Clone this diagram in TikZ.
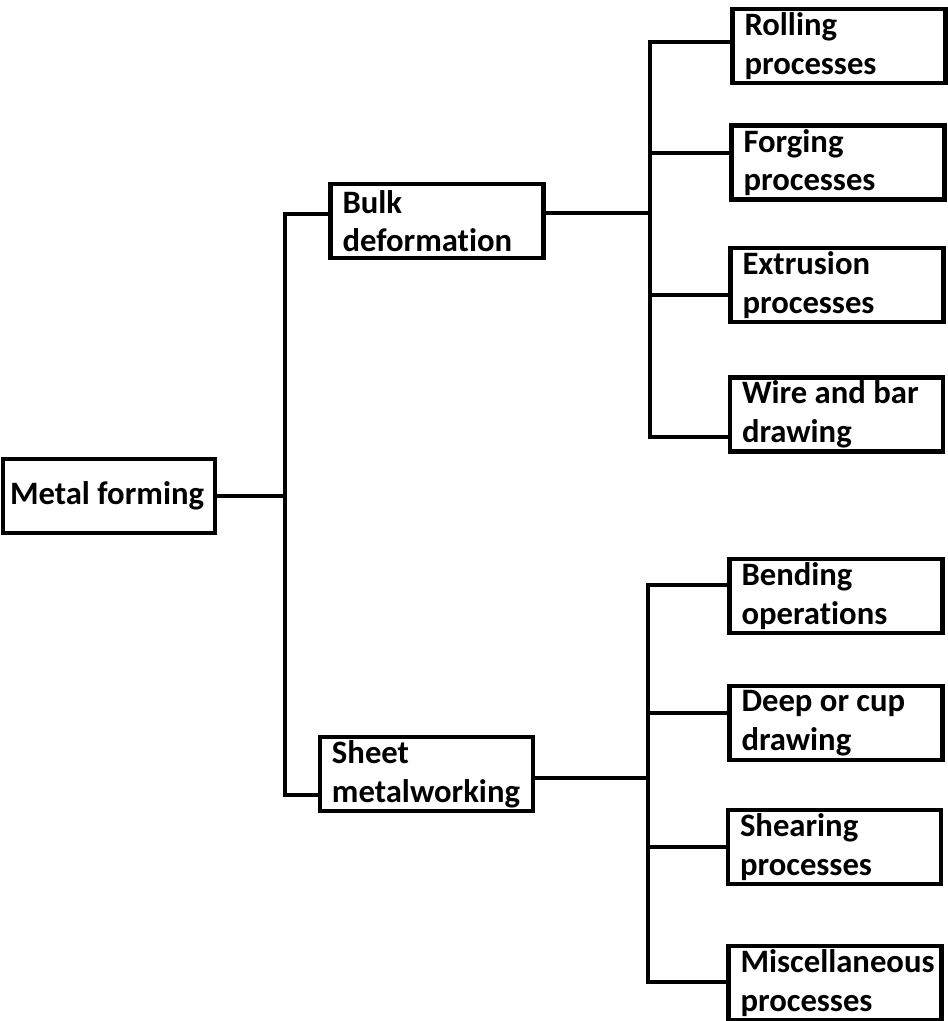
\documentclass[tikz,border=0pt]{standalone}
\usepackage{fontspec}
\setmainfont{Carlito}[Ligatures=NoCommon]
\usetikzlibrary{positioning}

\begin{document}
\begin{tikzpicture}[
    box/.style={draw, rectangle, line width=1.2pt, minimum height=0.74cm, inner xsep=0.12cm, inner ysep=0pt, text width=1.89cm, align=flush left, font=\fontsize{9.3}{11}\selectfont\bfseries},
    link/.style={line width=1.2pt}
]
    \useasboundingbox (0,0) rectangle (9.48,-10.21);

    % Root
    \node[box, text width=1.98cm, inner xsep=0.07cm] (mf) at (1.09,-4.96) {Metal forming};

    % Main groups
    \node[box] (bulk) at (4.37,-2.21) {Bulk\\deformation};
    \node[box] (sheet) at (4.265,-7.74) {Sheet\\metalworking};

    % Bulk deformation processes
    \node[box] (rolling) at (8.39,-0.46) {Rolling\\processes};
    \node[box] (forging) at (8.38,-1.625) {Forging\\processes};
    \node[box] (extrusion) at (8.37,-2.85) {Extrusion\\processes};
    \node[box] (wire) at (8.365,-4.145) {Wire and bar\\drawing};

    % Sheet metalworking processes
    \node[box] (bending) at (8.36,-5.96) {Bending\\operations};
    \node[box] (deep) at (8.36,-7.23) {Deep or cup\\drawing};
    \node[box] (shearing) at (8.345,-8.47) {Shearing\\processes};
    \node[box] (misc) at (8.35,-9.83) {Miscellaneous\\processes};

    % Junctions
    \coordinate (t1) at (2.85,-2.14);
    \coordinate (t2) at (2.85,-7.95);
    \coordinate (bj) at (6.50,-2.13);
    \coordinate (b1) at (6.50,-0.42);
    \coordinate (b2) at (6.50,-1.53);
    \coordinate (b3) at (6.50,-2.95);
    \coordinate (b4) at (6.50,-4.37);
    \coordinate (sj) at (6.48,-7.78);
    \coordinate (s1) at (6.48,-5.85);
    \coordinate (s2) at (6.48,-7.13);
    \coordinate (s3) at (6.48,-8.47);
    \coordinate (s4) at (6.48,-9.82);

    % Root to groups
    \draw[link] (mf.east) -- (mf.east -| t1);
    \draw[link] (t1 -| bulk.west) -- (t1) -- (t2) -- (t2 -| sheet.west);

    % Bulk deformation branches
    \draw[link] (bj -| bulk.east) -- (bj);
    \draw[link] (b1 -| rolling.west) -- (b1) -- (b4) -- (b4 -| wire.west);
    \draw[link] (b2) -- (b2 -| forging.west);
    \draw[link] (b3) -- (b3 -| extrusion.west);

    % Sheet metalworking branches
    \draw[link] (sj -| sheet.east) -- (sj);
    \draw[link] (s1 -| bending.west) -- (s1) -- (s4) -- (s4 -| misc.west);
    \draw[link] (s2) -- (s2 -| deep.west);
    \draw[link] (s3) -- (s3 -| shearing.west);

\end{tikzpicture}
\end{document}
